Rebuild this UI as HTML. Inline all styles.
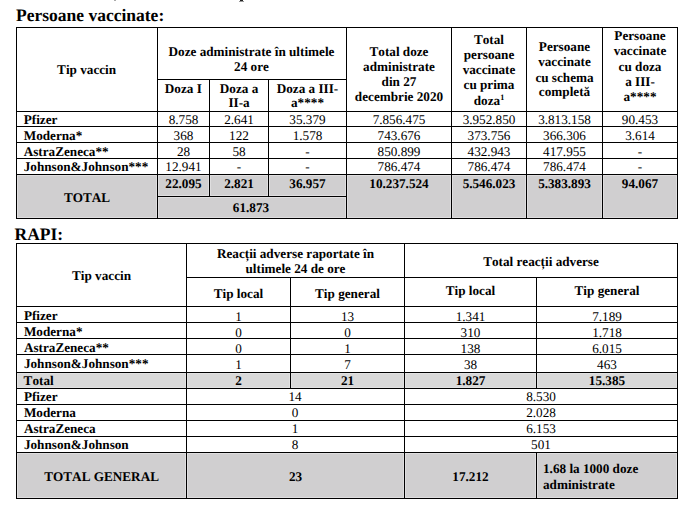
<!DOCTYPE html>
<html><head><meta charset="utf-8"><style>
html,body{margin:0;padding:0;background:#fff;width:688px;height:510px;overflow:hidden;position:relative}
i,b,p{position:absolute;display:block;margin:0;padding:0}
i{background:#000}
p{line-height:1;white-space:nowrap;text-rendering:geometricPrecision;font-kerning:none;text-align:center;color:#000;font-family:"Liberation Serif",serif}
p.b{font-weight:bold}
p.r{font-weight:normal}
sup{font-size:0.62em;vertical-align:0;position:relative;top:-0.62em;line-height:0}
</style></head><body>
<b style="left:17px;top:175px;width:140px;height:43px;background:#d0cfd0;box-shadow:inset 0 0 0 1px #dfdedf"></b>
<b style="left:158px;top:175px;width:51px;height:21px;background:#d0cfd0;box-shadow:inset 0 0 0 1px #dfdedf"></b>
<b style="left:210px;top:175px;width:58px;height:21px;background:#d0cfd0;box-shadow:inset 0 0 0 1px #dfdedf"></b>
<b style="left:269px;top:175px;width:77px;height:21px;background:#d0cfd0;box-shadow:inset 0 0 0 1px #dfdedf"></b>
<b style="left:158px;top:197px;width:188px;height:21px;background:#d0cfd0;box-shadow:inset 0 0 0 1px #dfdedf"></b>
<b style="left:347px;top:175px;width:104px;height:43px;background:#d0cfd0;box-shadow:inset 0 0 0 1px #dfdedf"></b>
<b style="left:452px;top:175px;width:74px;height:43px;background:#d0cfd0;box-shadow:inset 0 0 0 1px #dfdedf"></b>
<b style="left:527px;top:175px;width:75px;height:43px;background:#d0cfd0;box-shadow:inset 0 0 0 1px #dfdedf"></b>
<b style="left:603px;top:175px;width:74px;height:43px;background:#d0cfd0;box-shadow:inset 0 0 0 1px #dfdedf"></b>
<b style="left:17px;top:373px;width:169px;height:15px;background:#d9d9d9;box-shadow:inset 0 0 0 1px #e2e2e2"></b>
<b style="left:187px;top:373px;width:103px;height:15px;background:#d9d9d9;box-shadow:inset 0 0 0 1px #e2e2e2"></b>
<b style="left:291px;top:373px;width:113px;height:15px;background:#d9d9d9;box-shadow:inset 0 0 0 1px #e2e2e2"></b>
<b style="left:405px;top:373px;width:131px;height:15px;background:#d9d9d9;box-shadow:inset 0 0 0 1px #e2e2e2"></b>
<b style="left:537px;top:373px;width:140px;height:15px;background:#d9d9d9;box-shadow:inset 0 0 0 1px #e2e2e2"></b>
<b style="left:17px;top:453px;width:169px;height:45px;background:#d0cfd0;box-shadow:inset 0 0 0 1px #dfdedf"></b>
<b style="left:187px;top:453px;width:217px;height:45px;background:#d0cfd0;box-shadow:inset 0 0 0 1px #dfdedf"></b>
<b style="left:405px;top:453px;width:131px;height:45px;background:#d0cfd0;box-shadow:inset 0 0 0 1px #dfdedf"></b>
<b style="left:537px;top:453px;width:140px;height:45px;background:#d0cfd0;box-shadow:inset 0 0 0 1px #dfdedf"></b>
<i style="left:16px;top:27px;width:662px;height:1px"></i>
<i style="left:16px;top:111px;width:662px;height:1px"></i>
<i style="left:16px;top:126px;width:662px;height:1px"></i>
<i style="left:16px;top:142px;width:662px;height:1px"></i>
<i style="left:16px;top:158px;width:662px;height:1px"></i>
<i style="left:16px;top:174px;width:662px;height:1px"></i>
<i style="left:16px;top:218px;width:662px;height:1px"></i>
<i style="left:157px;top:79px;width:190px;height:1px"></i>
<i style="left:157px;top:196px;width:190px;height:1px"></i>
<i style="left:16px;top:27px;width:1px;height:192px"></i>
<i style="left:157px;top:27px;width:1px;height:192px"></i>
<i style="left:346px;top:27px;width:1px;height:192px"></i>
<i style="left:451px;top:27px;width:1px;height:192px"></i>
<i style="left:526px;top:27px;width:1px;height:192px"></i>
<i style="left:602px;top:27px;width:1px;height:192px"></i>
<i style="left:677px;top:27px;width:1px;height:192px"></i>
<i style="left:209px;top:79px;width:1px;height:118px"></i>
<i style="left:268px;top:79px;width:1px;height:118px"></i>
<i style="left:16px;top:243px;width:662px;height:1px"></i>
<i style="left:16px;top:306px;width:662px;height:1px"></i>
<i style="left:16px;top:322px;width:662px;height:1px"></i>
<i style="left:16px;top:338px;width:662px;height:1px"></i>
<i style="left:16px;top:354px;width:662px;height:1px"></i>
<i style="left:16px;top:372px;width:662px;height:1px"></i>
<i style="left:16px;top:388px;width:662px;height:1px"></i>
<i style="left:16px;top:404px;width:662px;height:1px"></i>
<i style="left:16px;top:420px;width:662px;height:1px"></i>
<i style="left:16px;top:436px;width:662px;height:1px"></i>
<i style="left:16px;top:452px;width:662px;height:1px"></i>
<i style="left:16px;top:498px;width:662px;height:1px"></i>
<i style="left:186px;top:277px;width:492px;height:1px"></i>
<i style="left:16px;top:243px;width:1px;height:256px"></i>
<i style="left:186px;top:243px;width:1px;height:256px"></i>
<i style="left:404px;top:243px;width:1px;height:256px"></i>
<i style="left:677px;top:243px;width:1px;height:256px"></i>
<i style="left:290px;top:277px;width:1px;height:112px"></i>
<i style="left:536px;top:277px;width:1px;height:112px"></i>
<i style="left:536px;top:452px;width:1px;height:47px"></i>
<p class="b" style="left:16.00px;top:6.90px;text-align:left;font-size:17.5px">Persoane vaccinate:</p>
<p class="b" style="left:14.60px;top:225.80px;text-align:left;font-size:17.5px">RAPI:</p>
<p class="b" style="left:-63.40px;top:63.10px;width:300px;font-size:13.2px">Tip vaccin</p>
<p class="b" style="left:101.50px;top:44.80px;width:300px;font-size:13.2px">Doze administrate în ultimele</p>
<p class="b" style="left:101.50px;top:59.70px;width:300px;font-size:13.2px">24 ore</p>
<p class="b" style="left:33.30px;top:81.90px;width:300px;font-size:13.2px">Doza I</p>
<p class="b" style="left:89.00px;top:81.90px;width:300px;font-size:13.2px">Doza a</p>
<p class="b" style="left:89.00px;top:95.70px;width:300px;font-size:13.2px">II-a</p>
<p class="b" style="left:157.50px;top:81.90px;width:300px;font-size:13.2px">Doza a III-</p>
<p class="b" style="left:157.50px;top:95.70px;width:300px;font-size:13.2px">a****</p>
<p class="b" style="left:249.00px;top:45.00px;width:300px;font-size:13.2px">Total doze</p>
<p class="b" style="left:249.00px;top:60.20px;width:300px;font-size:13.2px">administrate</p>
<p class="b" style="left:249.00px;top:75.10px;width:300px;font-size:13.2px">din 27</p>
<p class="b" style="left:249.00px;top:90.30px;width:300px;font-size:13.2px">decembrie 2020</p>
<p class="b" style="left:339.00px;top:32.70px;width:300px;font-size:13.2px">Total</p>
<p class="b" style="left:339.00px;top:47.60px;width:300px;font-size:13.2px">persoane</p>
<p class="b" style="left:339.00px;top:62.80px;width:300px;font-size:13.2px">vaccinate</p>
<p class="b" style="left:339.00px;top:77.90px;width:300px;font-size:13.2px">cu prima</p>
<p class="b" style="left:339.00px;top:93.80px;width:300px;font-size:13.2px">doza<sup>1</sup></p>
<p class="b" style="left:414.50px;top:39.70px;width:300px;font-size:13.2px">Persoane</p>
<p class="b" style="left:414.50px;top:55.30px;width:300px;font-size:13.2px">vaccinate</p>
<p class="b" style="left:414.50px;top:70.60px;width:300px;font-size:13.2px">cu schema</p>
<p class="b" style="left:414.50px;top:85.10px;width:300px;font-size:13.2px">completă</p>
<p class="b" style="left:490.00px;top:28.60px;width:300px;font-size:13.2px">Persoane</p>
<p class="b" style="left:490.00px;top:44.30px;width:300px;font-size:13.2px">vaccinate</p>
<p class="b" style="left:490.00px;top:59.50px;width:300px;font-size:13.2px">cu doza</p>
<p class="b" style="left:490.00px;top:74.50px;width:300px;font-size:13.2px">a III-</p>
<p class="b" style="left:490.00px;top:89.70px;width:300px;font-size:13.2px">a****</p>
<p class="b" style="left:23.70px;top:112.80px;text-align:left;font-size:13.2px">Pfizer</p>
<p class="r" style="left:33.50px;top:112.80px;width:300px;font-size:13.2px">8.758</p>
<p class="r" style="left:89.00px;top:112.80px;width:300px;font-size:13.2px">2.641</p>
<p class="r" style="left:157.50px;top:112.80px;width:300px;font-size:13.2px">35.379</p>
<p class="r" style="left:249.00px;top:112.80px;width:300px;font-size:13.2px">7.856.475</p>
<p class="r" style="left:339.00px;top:112.80px;width:300px;font-size:13.2px">3.952.850</p>
<p class="r" style="left:414.50px;top:112.80px;width:300px;font-size:13.2px">3.813.158</p>
<p class="r" style="left:490.00px;top:112.80px;width:300px;font-size:13.2px">90.453</p>
<p class="b" style="left:23.70px;top:128.50px;text-align:left;font-size:13.2px">Moderna*</p>
<p class="r" style="left:33.50px;top:128.50px;width:300px;font-size:13.2px">368</p>
<p class="r" style="left:89.00px;top:128.50px;width:300px;font-size:13.2px">122</p>
<p class="r" style="left:157.50px;top:128.50px;width:300px;font-size:13.2px">1.578</p>
<p class="r" style="left:249.00px;top:128.50px;width:300px;font-size:13.2px">743.676</p>
<p class="r" style="left:339.00px;top:128.50px;width:300px;font-size:13.2px">373.756</p>
<p class="r" style="left:414.50px;top:128.50px;width:300px;font-size:13.2px">366.306</p>
<p class="r" style="left:490.00px;top:128.50px;width:300px;font-size:13.2px">3.614</p>
<p class="b" style="left:23.70px;top:144.50px;text-align:left;font-size:13.2px">AstraZeneca**</p>
<p class="r" style="left:33.50px;top:144.50px;width:300px;font-size:13.2px">28</p>
<p class="r" style="left:89.00px;top:144.50px;width:300px;font-size:13.2px">58</p>
<p class="r" style="left:157.50px;top:144.50px;width:300px;font-size:13.2px">-</p>
<p class="r" style="left:249.00px;top:144.50px;width:300px;font-size:13.2px">850.899</p>
<p class="r" style="left:339.00px;top:144.50px;width:300px;font-size:13.2px">432.943</p>
<p class="r" style="left:414.50px;top:144.50px;width:300px;font-size:13.2px">417.955</p>
<p class="r" style="left:490.00px;top:144.50px;width:300px;font-size:13.2px">-</p>
<p class="b" style="left:23.70px;top:160.30px;text-align:left;font-size:13.2px">Johnson&amp;Johnson***</p>
<p class="r" style="left:33.50px;top:160.30px;width:300px;font-size:13.2px">12.941</p>
<p class="r" style="left:89.00px;top:160.30px;width:300px;font-size:13.2px">-</p>
<p class="r" style="left:157.50px;top:160.30px;width:300px;font-size:13.2px">-</p>
<p class="r" style="left:249.00px;top:160.30px;width:300px;font-size:13.2px">786.474</p>
<p class="r" style="left:339.00px;top:160.30px;width:300px;font-size:13.2px">786.474</p>
<p class="r" style="left:414.50px;top:160.30px;width:300px;font-size:13.2px">786.474</p>
<p class="r" style="left:490.00px;top:160.30px;width:300px;font-size:13.2px">-</p>
<p class="b" style="left:-63.00px;top:190.90px;width:300px;font-size:13.2px">TOTAL</p>
<p class="b" style="left:33.50px;top:176.80px;width:300px;font-size:13.2px">22.095</p>
<p class="b" style="left:89.00px;top:176.80px;width:300px;font-size:13.2px">2.821</p>
<p class="b" style="left:157.50px;top:176.80px;width:300px;font-size:13.2px">36.957</p>
<p class="b" style="left:249.00px;top:176.80px;width:300px;font-size:13.2px">10.237.524</p>
<p class="b" style="left:339.00px;top:176.80px;width:300px;font-size:13.2px">5.546.023</p>
<p class="b" style="left:414.50px;top:176.80px;width:300px;font-size:13.2px">5.383.893</p>
<p class="b" style="left:490.00px;top:176.80px;width:300px;font-size:13.2px">94.067</p>
<p class="b" style="left:101.00px;top:200.80px;width:300px;font-size:13.2px">61.873</p>
<p class="b" style="left:-48.50px;top:269.10px;width:300px;font-size:13.2px">Tip vaccin</p>
<p class="b" style="left:145.50px;top:246.60px;width:300px;font-size:13.2px">Reacții adverse raportate în</p>
<p class="b" style="left:145.50px;top:262.30px;width:300px;font-size:13.2px">ultimele 24 de ore</p>
<p class="b" style="left:88.50px;top:286.50px;width:300px;font-size:13.2px">Tip local</p>
<p class="b" style="left:197.50px;top:286.50px;width:300px;font-size:13.2px">Tip general</p>
<p class="b" style="left:391.00px;top:254.60px;width:300px;font-size:13.2px">Total reacții adverse</p>
<p class="b" style="left:320.50px;top:284.30px;width:300px;font-size:13.2px">Tip local</p>
<p class="b" style="left:457.00px;top:284.30px;width:300px;font-size:13.2px">Tip general</p>
<p class="b" style="left:23.90px;top:309.00px;text-align:left;font-size:13.2px">Pfizer</p>
<p class="r" style="left:88.50px;top:309.50px;width:300px;font-size:13.2px">1</p>
<p class="r" style="left:197.50px;top:309.50px;width:300px;font-size:13.2px">13</p>
<p class="r" style="left:320.50px;top:309.50px;width:300px;font-size:13.2px">1.341</p>
<p class="r" style="left:457.00px;top:309.50px;width:300px;font-size:13.2px">7.189</p>
<p class="b" style="left:23.90px;top:325.00px;text-align:left;font-size:13.2px">Moderna*</p>
<p class="r" style="left:88.50px;top:325.50px;width:300px;font-size:13.2px">0</p>
<p class="r" style="left:197.50px;top:325.50px;width:300px;font-size:13.2px">0</p>
<p class="r" style="left:320.50px;top:325.50px;width:300px;font-size:13.2px">310</p>
<p class="r" style="left:457.00px;top:325.50px;width:300px;font-size:13.2px">1.718</p>
<p class="b" style="left:23.90px;top:341.00px;text-align:left;font-size:13.2px">AstraZeneca**</p>
<p class="r" style="left:88.50px;top:341.50px;width:300px;font-size:13.2px">0</p>
<p class="r" style="left:197.50px;top:341.50px;width:300px;font-size:13.2px">1</p>
<p class="r" style="left:320.50px;top:341.50px;width:300px;font-size:13.2px">138</p>
<p class="r" style="left:457.00px;top:341.50px;width:300px;font-size:13.2px">6.015</p>
<p class="b" style="left:23.90px;top:357.20px;text-align:left;font-size:13.2px">Johnson&amp;Johnson***</p>
<p class="r" style="left:88.50px;top:357.90px;width:300px;font-size:13.2px">1</p>
<p class="r" style="left:197.50px;top:357.90px;width:300px;font-size:13.2px">7</p>
<p class="r" style="left:320.50px;top:357.90px;width:300px;font-size:13.2px">38</p>
<p class="r" style="left:457.00px;top:357.90px;width:300px;font-size:13.2px">463</p>
<p class="b" style="left:23.60px;top:374.00px;text-align:left;font-size:13.2px">Total</p>
<p class="b" style="left:88.50px;top:374.00px;width:300px;font-size:13.2px">2</p>
<p class="b" style="left:197.50px;top:374.00px;width:300px;font-size:13.2px">21</p>
<p class="b" style="left:320.50px;top:374.00px;width:300px;font-size:13.2px">1.827</p>
<p class="b" style="left:457.00px;top:374.00px;width:300px;font-size:13.2px">15.385</p>
<p class="b" style="left:23.90px;top:389.60px;text-align:left;font-size:13.2px">Pfizer</p>
<p class="r" style="left:145.10px;top:389.60px;width:300px;font-size:13.2px">14</p>
<p class="r" style="left:391.00px;top:389.60px;width:300px;font-size:13.2px">8.530</p>
<p class="b" style="left:23.90px;top:405.70px;text-align:left;font-size:13.2px">Moderna</p>
<p class="r" style="left:145.10px;top:405.70px;width:300px;font-size:13.2px">0</p>
<p class="r" style="left:391.00px;top:405.70px;width:300px;font-size:13.2px">2.028</p>
<p class="b" style="left:23.90px;top:421.70px;text-align:left;font-size:13.2px">AstraZeneca</p>
<p class="r" style="left:145.10px;top:421.70px;width:300px;font-size:13.2px">1</p>
<p class="r" style="left:391.00px;top:421.70px;width:300px;font-size:13.2px">6.153</p>
<p class="b" style="left:23.90px;top:437.60px;text-align:left;font-size:13.2px">Johnson&amp;Johnson</p>
<p class="r" style="left:145.10px;top:437.60px;width:300px;font-size:13.2px">8</p>
<p class="r" style="left:391.00px;top:437.60px;width:300px;font-size:13.2px">501</p>
<p class="b" style="left:-48.40px;top:469.80px;width:300px;font-size:13.2px">TOTAL GENERAL</p>
<p class="b" style="left:145.50px;top:469.80px;width:300px;font-size:13.2px">23</p>
<p class="b" style="left:320.50px;top:469.80px;width:300px;font-size:13.2px">17.212</p>
<p class="b" style="left:543.00px;top:461.90px;text-align:left;font-size:13.2px">1.68 la 1000 doze</p>
<p class="b" style="left:543.00px;top:477.60px;text-align:left;font-size:13.2px">administrate</p>
<i style="left:240px;top:0px;width:3px;height:1px;background:#222"></i>
<i style="left:239px;top:1px;width:5px;height:1px;background:#999"></i>
<i style="left:114px;top:0px;width:2px;height:1px;background:#aaa"></i>
</body></html>
